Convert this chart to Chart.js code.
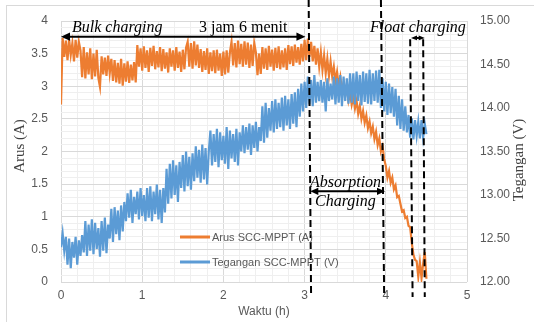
<!DOCTYPE html>
<html>
<head>
<meta charset="utf-8">
<script src="https://cdn.jsdelivr.net/npm/chart.js@4.4.1/dist/chart.umd.min.js"></script>
<style>
  html, body { margin: 0; padding: 0; background: #ffffff; }
  #wrap { width: 534px; height: 322px; position: relative; }
</style>
</head>
<body>
<div id="wrap"><canvas id="c" width="534" height="322"></canvas></div>
<script>
// Data, one sample every 0.02 h (0 .. 4.5 h)
const sampleStep = 0.02;

// Arus SCC-MPPT (A) - left axis
const arusA = [
  2.72,
  3.74, 3.45, 3.70, 3.40, 3.72, 3.48, 3.66, 3.38, 3.71, 3.44, 3.68,
  3.55, 3.14, 3.60, 3.12, 3.52, 3.18, 3.58, 3.11, 3.50, 3.15, 3.56, 3.13,
  2.99,
  3.46, 3.18, 3.44, 3.16, 3.47, 3.20, 3.42,
  3.08, 3.40, 3.06, 3.36, 3.04, 3.42, 3.01, 3.35, 3.07, 3.38, 3.05, 3.33, 3.09, 3.37, 3.06,
  3.63, 3.30, 3.58, 3.24, 3.61, 3.28, 3.55, 3.22, 3.59, 3.31, 3.62, 3.26, 3.54, 3.29, 3.60, 3.23,
  3.57, 3.27, 3.52, 3.21, 3.58, 3.30, 3.55, 3.24, 3.60, 3.28, 3.53, 3.22, 3.56, 3.26, 3.59,
  3.68, 3.30, 3.66, 3.27, 3.69, 3.32, 3.64, 3.28,
  3.57, 3.22, 3.54, 3.25, 3.58, 3.19, 3.52, 3.23, 3.55, 3.20, 3.56, 3.24, 3.50, 3.16, 3.53, 3.18, 3.55, 3.21, 3.52,
  3.68, 3.32, 3.66, 3.29, 3.70, 3.34, 3.65, 3.30, 3.69, 3.33, 3.67, 3.28, 3.64, 3.31, 3.66,
  3.52, 3.17, 3.50, 3.19,
  3.60, 3.27, 3.58, 3.25, 3.62, 3.30, 3.56, 3.24, 3.59, 3.28, 3.61, 3.26, 3.55, 3.29, 3.58, 3.25,
  3.63, 3.34, 3.61, 3.31, 3.64, 3.36, 3.60, 3.33, 3.65, 3.38,
  3.71, 3.40, 3.73, 3.45, 3.68,
  3.38, 3.62, 3.33, 3.58, 3.30, 3.52, 3.25, 3.47, 3.20, 3.42, 3.16,
  3.38, 3.15, 3.30, 3.08, 3.22, 3.00, 3.14, 2.93, 3.05, 2.86, 2.98, 2.78, 2.90, 2.72,
  2.84, 2.66, 2.78, 2.58, 2.70, 2.50, 2.62, 2.44, 2.55, 2.36,
  2.46, 2.28, 2.38, 2.19, 2.30, 2.10, 2.20, 2.00, 2.08, 1.88,
  1.78, 1.60, 1.70, 1.52, 1.60, 1.42, 1.48, 1.30, 1.32,
  1.20, 1.08, 1.10, 0.98, 1.00, 0.86, 0.84,
  0.60, 0.42, 0.34,
  0.32, 0.08, 0.30, 0.06, 0.28, 0.46, 0.05
];

// Tegangan SCC-MPPT (V) - right axis
const teganganV = [
  12.40, 12.56, 12.36, 12.52,
  12.20, 12.50, 12.16, 12.46, 12.28, 12.52, 12.20, 12.48, 12.30, 12.54,
  12.34, 12.70, 12.30, 12.66, 12.36, 12.72, 12.32, 12.68, 12.38, 12.62, 12.29, 12.70, 12.36, 12.74, 12.33, 12.66,
  12.50, 12.84, 12.46, 12.86, 12.55, 12.82, 12.48, 12.88, 12.58, 12.92,
  12.70, 13.02, 12.74, 13.06, 12.68, 12.98, 12.78, 13.04, 12.72, 13.08, 12.76, 13.00, 12.70,
  13.08, 12.74, 13.10, 12.70, 13.04, 12.78, 13.12, 12.72, 13.06, 12.68, 13.08, 12.80,
  13.30, 12.90, 13.36, 12.96, 13.40, 13.00, 13.34, 12.92, 13.38,
  13.08, 13.46, 13.04, 13.50, 13.10, 13.44, 13.06, 13.48,
  13.16, 13.56, 13.20, 13.52, 13.14, 13.58, 13.18, 13.54, 13.12, 13.50,
  13.74, 13.34, 13.70, 13.38, 13.76, 13.32, 13.72, 13.40, 13.68, 13.36, 13.78, 13.30, 13.74, 13.42, 13.70, 13.38, 13.76, 13.34, 13.72,
  13.50, 13.80, 13.48, 13.78, 13.52, 13.82, 13.46, 13.80, 13.54, 13.84, 13.50, 13.78,
  13.62, 14.02, 13.60, 14.06, 13.66, 14.00,
  13.74, 14.08, 13.72, 14.10, 13.76, 14.06, 13.78, 14.12, 13.74, 14.14, 13.80, 14.10, 13.76, 14.16, 13.82, 14.18,
  13.78, 14.22, 13.90, 14.28, 13.96, 14.30, 14.00,
  14.36, 14.04, 14.32, 14.02, 14.38, 14.06, 14.30, 14.08,
  14.32, 14.06, 14.30, 13.96, 14.34, 14.08, 14.28, 14.10,
  14.36, 14.04, 14.34, 14.06, 14.38, 14.02, 14.36, 14.08, 14.34, 14.05, 14.40,
  14.06, 14.40, 14.04, 14.42, 14.08, 14.38, 14.03, 14.42, 14.07, 14.40, 14.05, 14.44, 14.04, 14.40, 14.08, 14.43, 14.06, 14.44,
  14.00, 14.34, 13.96, 14.30, 13.92, 14.28, 13.94, 14.24, 13.90, 14.22,
  13.80, 14.14, 13.76, 14.10, 13.74, 14.02, 13.72, 13.92,
  13.66, 13.88, 13.64, 13.86, 13.68, 13.84, 13.65, 13.86, 13.66, 13.82, 13.70
];

const times = arusA.map((_, i) => +(i * sampleStep).toFixed(2));

const seriesNames = ['Arus SCC-MPPT (A)', 'Tegangan SCC-MPPT (V)'];
const seriesColors = ['#ED7D31', '#5B9BD5'];

// phase markers (h): top and bottom of each dashed line
const phaseLines = [
  { top: 3.05, bottom: 3.08, full: true },
  { top: 3.94, bottom: 3.98, full: true },
  { top: 4.30, bottom: 4.33, full: false },
  { top: 4.46, bottom: 4.48, full: false }
];

const GRID_MAJOR = '#d9d9d9';
const GRID_MINOR = '#efefef';
const TICK_COLOR = '#595959';

function isMultiple(v, step) {
  const r = v / step;
  return Math.abs(r - Math.round(r)) < 1e-6;
}

function drawArrow(ctx, x1, x2, y, head) {
  ctx.beginPath();
  ctx.moveTo(x1 + head, y);
  ctx.lineTo(x2 - head, y);
  ctx.stroke();
  ctx.beginPath();
  ctx.moveTo(x1, y);
  ctx.lineTo(x1 + head + 2, y - head * 0.6);
  ctx.lineTo(x1 + head + 2, y + head * 0.6);
  ctx.closePath();
  ctx.fill();
  ctx.beginPath();
  ctx.moveTo(x2, y);
  ctx.lineTo(x2 - head - 2, y - head * 0.6);
  ctx.lineTo(x2 - head - 2, y + head * 0.6);
  ctx.closePath();
  ctx.fill();
}

const annotations = {
  id: 'annotations',
  beforeDraw(chart) {
    const ctx = chart.ctx;
    ctx.save();
    ctx.fillStyle = '#ffffff';
    ctx.fillRect(0, 0, chart.width, chart.height);
    ctx.strokeStyle = '#d9d9d9';
    ctx.lineWidth = 1;
    ctx.strokeRect(6.5, 5.5, 560, 340);
    ctx.restore();
  },
  afterDraw(chart) {
    const ctx = chart.ctx;
    const xs = chart.scales.x;
    const ys = chart.scales.y;
    const area = chart.chartArea;
    ctx.save();

    // dashed phase lines
    ctx.strokeStyle = '#000000';
    ctx.lineWidth = 2;
    ctx.setLineDash([7, 4]);
    const bottomY = area.bottom + 15;
    phaseLines.forEach(l => {
      const topY = l.full ? 0 : ys.getPixelForValue(3.72);
      ctx.beginPath();
      ctx.moveTo(xs.getPixelForValue(l.top), topY);
      ctx.lineTo(xs.getPixelForValue(l.bottom), bottomY);
      ctx.stroke();
    });
    ctx.setLineDash([]);

    // arrows
    ctx.fillStyle = '#000000';
    ctx.lineWidth = 2;
    drawArrow(ctx, xs.getPixelForValue(0), xs.getPixelForValue(3.01), ys.getPixelForValue(3.76), 7);
    drawArrow(ctx, xs.getPixelForValue(4.31), xs.getPixelForValue(4.48), ys.getPixelForValue(3.74), 4);
    drawArrow(ctx, xs.getPixelForValue(3.07), xs.getPixelForValue(3.99), ys.getPixelForValue(1.39), 6);

    // labels
    ctx.fillStyle = '#000000';
    ctx.textBaseline = 'alphabetic';
    ctx.textAlign = 'left';
    ctx.font = 'italic 16px "Liberation Serif"';
    ctx.fillText('Bulk charging', 72, 32);
    ctx.fillText('Float charging', 370, 32);
    ctx.fillText('Absorption', 310, 187);
    ctx.fillText('Charging', 315, 206);
    ctx.font = '16px "Liberation Serif"';
    ctx.fillText('3 jam 6 menit', 199, 32);

    // legend inside the plot
    const legY = [237, 262];
    ctx.font = '11px "Liberation Sans"';
    ctx.textBaseline = 'middle';
    seriesNames.forEach((name, i) => {
      ctx.strokeStyle = seriesColors[i];
      ctx.lineWidth = 3;
      ctx.beginPath();
      ctx.moveTo(180, legY[i]);
      ctx.lineTo(210, legY[i]);
      ctx.stroke();
      ctx.fillStyle = TICK_COLOR;
      ctx.fillText(name, 212, legY[i] + 1);
    });

    // axis titles
    ctx.fillStyle = '#404040';
    ctx.textAlign = 'center';
    ctx.font = '15px "Liberation Serif"';
    ctx.save();
    ctx.translate(20, 146);
    ctx.rotate(-Math.PI / 2);
    ctx.fillText('Arus (A)', 0, 0);
    ctx.restore();
    ctx.save();
    ctx.translate(519, 160);
    ctx.rotate(-Math.PI / 2);
    ctx.fillText('Tegangan (V)', 0, 0);
    ctx.restore();
    ctx.font = '12px "Liberation Sans"';
    ctx.fillStyle = TICK_COLOR;
    ctx.fillText('Waktu (h)', 264, 312);

    ctx.restore();
  }
};

new Chart(document.getElementById('c'), {
  type: 'line',
  data: {
    datasets: [
      {
        label: seriesNames[0],
        data: arusA.map((v, i) => ({ x: times[i], y: v })),
        borderColor: seriesColors[0],
        borderWidth: 2.2,
        pointRadius: 0,
        tension: 0,
        yAxisID: 'y',
        order: 1
      },
      {
        label: seriesNames[1],
        data: teganganV.map((v, i) => ({ x: times[i], y: v })),
        borderColor: seriesColors[1],
        borderWidth: 2.2,
        pointRadius: 0,
        tension: 0,
        yAxisID: 'y1',
        order: 0
      }
    ]
  },
  options: {
    responsive: false,
    maintainAspectRatio: false,
    animation: false,
    layout: { padding: { top: 21, left: 0, right: 0, bottom: 0 } },
    plugins: {
      legend: { display: false },
      tooltip: { enabled: false }
    },
    scales: {
      x: {
        type: 'linear',
        min: 0,
        max: 5,
        afterFit: s => { s.height = 40; },
        ticks: {
          stepSize: 0.2,
          autoSkip: false,
          maxRotation: 0,
          padding: 6,
          color: TICK_COLOR,
          font: { family: 'Liberation Sans', size: 12 },
          callback: v => isMultiple(v, 1) ? String(Math.round(v)) : ''
        },
        grid: {
          color: c => (c.tick && isMultiple(c.tick.value, 1)) ? GRID_MAJOR : GRID_MINOR,
          drawTicks: false
        },
        border: { display: false }
      },
      y: {
        position: 'left',
        min: 0,
        max: 4,
        afterFit: s => { s.width = 61; },
        ticks: {
          stepSize: 0.1,
          autoSkip: false,
          padding: 13,
          color: TICK_COLOR,
          font: { family: 'Liberation Sans', size: 12 },
          callback: v => isMultiple(v, 0.5) ? String(Math.round(v * 10) / 10) : ''
        },
        grid: {
          color: c => (c.tick && isMultiple(c.tick.value, 0.5)) ? GRID_MAJOR : GRID_MINOR,
          drawTicks: false
        },
        border: { display: false }
      },
      y1: {
        position: 'right',
        min: 12,
        max: 15,
        afterFit: s => { s.width = 67; },
        ticks: {
          stepSize: 0.5,
          padding: 13,
          color: TICK_COLOR,
          font: { family: 'Liberation Sans', size: 12 },
          callback: v => v.toFixed(2)
        },
        grid: { drawOnChartArea: false, drawTicks: false },
        border: { display: false }
      }
    }
  },
  plugins: [annotations]
});
</script>
</body>
</html>
